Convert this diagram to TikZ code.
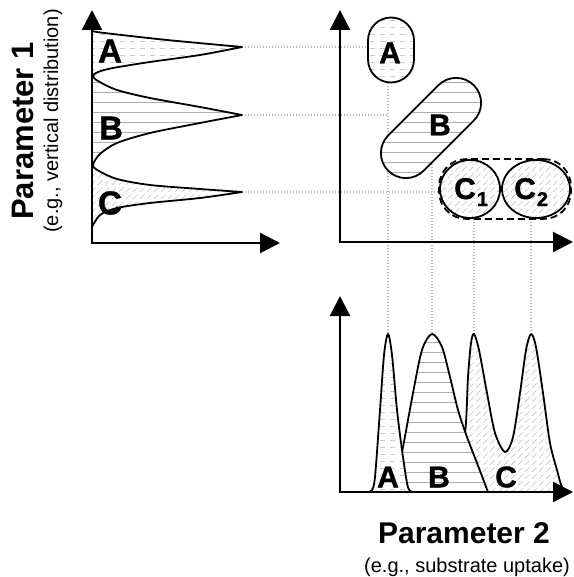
\documentclass[tikz,border=0pt]{standalone}
\usepackage{fontspec}
\setmainfont{Liberation Sans}
\newfontfamily\heavyfont[FakeBold=1.2]{Liberation Sans Bold}
\usetikzlibrary{arrows.meta,patterns.meta,shapes.misc,shapes.geometric,fit}

\tikzdeclarepattern{name=pdots, type=colored,
  bottom left={(-.5pt,-.5pt)}, top right={(10.5pt,7.5pt)}, tile size={(10pt,7pt)},
  code={\draw[gray!40, line width=0.7pt] (0pt,3.5pt) -- (5pt,3.5pt);}}
\tikzdeclarepattern{name=phl, type=colored,
  bottom left={(-.5pt,-.5pt)}, top right={(10.5pt,10.5pt)}, tile size={(10pt,10pt)},
  code={\draw[gray!65, line width=0.7pt] (-0.5pt,5pt) -- (10.5pt,5pt);}}
\tikzdeclarepattern{name=pdiag, type=colored,
  bottom left={(-.5pt,-.5pt)}, top right={(7.5pt,7.5pt)}, tile size={(7pt,7pt)},
  code={\draw[gray!50, line width=0.6pt] (0pt,0pt) -- (4.5pt,4.5pt);}}

\begin{document}
\begin{tikzpicture}[x=1pt,y=-1pt,
  curve/.style={line width=1.8pt, line join=round},
  dotline/.style={draw=gray!55, line width=1.3pt, dash pattern=on 1.2pt off 1.8pt},
  axis/.style={line width=2.2pt, {Triangle[length=20pt,width=20pt]}-{Triangle[length=20pt,width=20pt]}},
  capsule/.style={draw, line width=1.8pt, rounded rectangle, inner sep=0pt, preaction={fill=white}},
  cell/.style={draw, line width=1.8pt, ellipse, inner sep=0pt, preaction={fill=white}, pattern=pdiag},
  lblL/.style={font=\heavyfont\fontsize{33}{33}\selectfont, inner sep=0pt},
  lblR/.style={font=\heavyfont\fontsize{30}{30}\selectfont, inner sep=0pt},
  subfont/.style={font=\fontsize{20}{20}\selectfont, inner sep=0pt}
]
\useasboundingbox (0,0) rectangle (573,577);

% peak coordinates
\coordinate (lpA) at (242,47);
\coordinate (lpB) at (242,115);
\coordinate (lpC) at (242,192);
\coordinate (bpA) at (388,340);
\coordinate (bpB) at (432,340);
\coordinate (bpC1) at (474,340);
\coordinate (bpC2) at (531,340);
\coordinate (stopB) at (388,115);
\coordinate (vA) at (388,50);
\coordinate (vB) at (432,128);
\coordinate (vC1) at (474,189);
\coordinate (vC2) at (531,189);

% dotted guide lines
\draw[dotline] (lpA) -- (vA |- lpA);
\draw[dotline] (lpB) -- (stopB);
\draw[dotline] (lpC) -- (vC1 |- lpC);
\draw[dotline] (vA) -- (bpA);
\draw[dotline] (vB) -- (bpB);
\draw[dotline] (vC1) -- (bpC1);
\draw[dotline] (vC2) -- (bpC2);

% left distribution: fills
\fill[pattern=pdots] plot[smooth] coordinates {(92,31) (97,32) (113,34) (167,40) (242,47)}
  -- plot[smooth] coordinates {(242,47) (200,55) (150,62) (113,68) (98,73) (92,76)} -- cycle;
\fill[pattern=phl] plot[smooth] coordinates {(92,76) (98,81) (117,90) (150,98) (200,107) (242,115)}
  -- plot[smooth] coordinates {(242,115) (200,123) (150,133) (117,143) (100,153) (92,165)} -- cycle;
\fill[pattern=pdiag] plot[smooth] coordinates {(92,165) (99,170) (117,179) (150,185) (200,189) (242,192)}
  -- plot[smooth] coordinates {(242,192) (200,198) (150,203) (117,208) (100,215) (92,227)} -- cycle;
% left distribution: outline
\draw[curve] plot[smooth] coordinates {(92,31) (97,32) (113,34) (167,40) (242,47)}
  -- plot[smooth] coordinates {(242,47) (200,55) (150,62) (113,68) (98,72) (93,76) (98,81) (117,90) (150,98) (200,107) (242,115)}
  -- plot[smooth] coordinates {(242,115) (200,123) (150,133) (117,143) (100,154) (93,165) (99,171) (117,179) (150,185) (200,189) (242,192)}
  -- plot[smooth] coordinates {(242,192) (200,198) (150,203) (117,208) (100,215) (92,227)};

% scatter groups
\node[capsule, pattern=pdots, minimum width=65pt, minimum height=46pt, rotate=90] (capA) at (391,50) {};
\node[capsule, pattern=phl, minimum width=121pt, minimum height=50pt, rotate=45] (capB) at (431,128) {};
\node[cell, minimum width=60pt, minimum height=58pt] (capC1) at (470,189) {};
\node[cell, minimum width=68pt, minimum height=58pt] (capC2) at (536,189) {};
\node[draw, line width=1.8pt, dash pattern=on 7pt off 4pt, rounded corners=27pt, inner sep=0pt, fit=(capC1)(capC2)] (boxC) {};

% bottom distribution
\draw[curve, preaction={fill=white}, pattern=pdiag] plot[smooth] coordinates {(445,492) (455,470) (465,433) (468,377) (471,343) (474,334) (479,350) (487,393) (495,433) (505,452) (513,437) (520,393) (526,350) (531,334) (536,347) (543,393) (550,443) (557,470) (562,487) (569,492)} -- cycle;
\draw[curve, preaction={fill=white}, pattern=phl] plot[smooth] coordinates {(393,492) (398,470) (403,447) (413,393) (422,350) (432,334) (442,347) (450,377) (458,410) (467,437) (477,463) (488,492)} -- cycle;
\draw[curve, preaction={fill=white}, pattern=pdots] plot[smooth] coordinates {(368,492) (372,490) (375,477) (380,410) (384,355) (388,334) (392,355) (397,410) (402,450) (407,483) (410,491) (416,492)} -- cycle;

% axes
\coordinate (O1) at (92,243);
\coordinate (O2) at (340,242);
\coordinate (O3) at (340,492);
\draw[axis] (O1 |- 0,10) -- (O1) -- (280,243);
\draw[axis] (O2 |- 0,10) -- (O2) -- (573,242);
\draw[axis] (O3 |- 0,296) -- (O3) -- (573,492);

% labels
\node[lblL] (tA1) at (110,51) {A};
\node[lblL] (tB1) at (111,128) {B};
\node[lblL] (tC1) at (110,203) {C};
\node[lblR] (tA2) at (390,53) {A};
\node[lblR] (tB2) at (440,125) {B};
\node[lblR, anchor=base west] (tC12) at (454,199) {C\kern1pt\raisebox{-7pt}{\fontsize{20}{20}\selectfont 1}};
\node[lblR, anchor=base west] (tC22) at (514,199) {C\kern1pt\raisebox{-7pt}{\fontsize{20}{20}\selectfont 2}};
\node[lblR] (tA3) at (388,477) {A};
\node[lblR] (tB3) at (439,477) {B};
\node[lblR] (tC3) at (506,477) {C};

% axis titles
\node[rotate=90, anchor=base, inner sep=0pt, font=\bfseries\fontsize{31}{31}\selectfont] (p1) at (33,131) {Parameter 1};
\node[rotate=90, anchor=base, subfont] (p1s) at (58,121) {(e.g., vertical distribution)};
\node[anchor=base, inner sep=0pt, font=\bfseries\fontsize{30}{30}\selectfont] (p2) at (464,543) {Parameter 2};
\node[anchor=base, subfont] (p2s) at (467,572) {(e.g., substrate uptake)};
\end{tikzpicture}
\end{document}
